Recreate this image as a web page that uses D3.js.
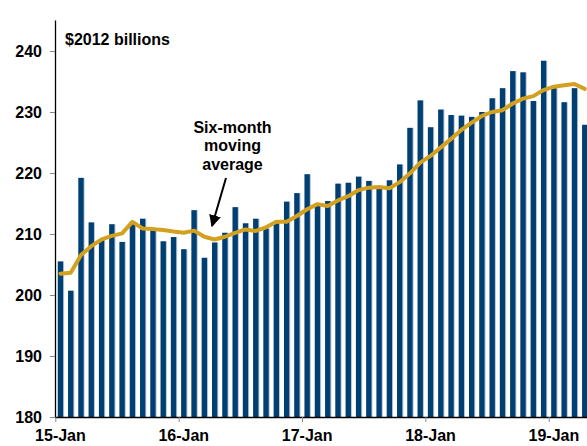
<!DOCTYPE html>
<html><head><meta charset="utf-8">
<script src="https://cdn.jsdelivr.net/npm/d3@7"></script>
<style>
html,body{margin:0;padding:0;background:#fff;}
svg{display:block;font-family:"Liberation Sans",Arial,sans-serif;}
</style></head>
<body>
<svg id="c" width="587" height="446"></svg>
<script>
// Monthly data, Jan 2015 – Apr 2019
const months = d3.range(52).map(i => new Date(2015, i, 1));
const spending = [205.5,200.7,219.2,211.9,209.0,211.6,208.7,212.0,212.5,211.0,208.8,209.5,
  207.5,213.9,206.1,208.6,210.2,214.4,211.75,212.5,210.9,211.75,215.3,216.7,
  219.8,214.9,215.4,218.25,218.4,219.4,218.7,217.8,218.8,221.4,227.4,231.9,
  227.5,230.4,229.5,229.4,229.2,230.0,232.25,233.9,236.7,236.5,231.8,238.4,
  233.9,231.6,233.9,227.9];
const movingAvg = [203.5,203.65,206.55,208.0,209.1,209.7,210.1,212.0,210.9,210.8,210.65,210.4,
  210.2,210.55,209.55,209.1,209.55,210.2,210.75,210.5,211.1,212.0,212.0,212.95,
  214.05,214.9,214.6,215.5,216.2,217.2,217.6,217.7,217.5,218.5,219.95,221.7,
  222.8,224.2,225.6,227.05,228.25,229.35,230.0,230.3,231.4,232.2,232.6,233.6,
  234.15,234.4,234.6,233.8];
const xTickIdx = [0,12,24,36,48];
const xTickLabels = ["15-Jan","16-Jan","17-Jan","18-Jan","19-Jan"];
const yTicks = [180,190,200,210,220,230,240];
const unitLabel = "$2012 billions";
const annotation = ["Six-month","moving","average"];

const svg = d3.select("#c");
const x = d3.scaleLinear().domain([0, 52]).range([55.3, 55.3 + 52*10.28]);
const y = d3.scaleLinear().domain([180, 245]).range([417, 20.5]);
const step = x(1) - x(0);

// bars: light edge + dark body
const g = svg.append("g");
g.selectAll("rect.edge").data(spending).join("rect")
  .attr("class","edge")
  .attr("x",(d,i)=>x(i)+2.5).attr("width",6.3)
  .attr("y",d=>y(d)).attr("height",d=>y(180)-y(d))
  .attr("fill","#b8c6d8");
g.selectAll("rect.bar").data(spending).join("rect")
  .attr("class","bar")
  .attr("x",(d,i)=>x(i)+2.5).attr("width",5.3)
  .attr("y",d=>y(d)).attr("height",d=>y(180)-y(d))
  .attr("fill","#003f72");

// moving average line
const line = d3.line().x((d,i)=>x(i+0.5)).y(d=>y(d)).curve(d3.curveLinear);
svg.append("path").datum(movingAvg).attr("d",line)
  .attr("fill","none").attr("stroke","#d4a020").attr("stroke-width",4)
  .attr("stroke-linejoin","round").attr("stroke-linecap","round");

// y axis
const ya = svg.append("g").attr("transform","translate(55,0)")
  .call(d3.axisLeft(y).tickValues(yTicks).tickSize(5).tickPadding(8).tickFormat(d3.format("d")));
ya.select(".domain").attr("stroke","#000").attr("stroke-width",1.3).attr("d","M0.5,20.5V417.5");
ya.selectAll(".tick line").attr("stroke","#888");
ya.selectAll(".tick text").attr("font-size",16).attr("font-weight","bold").attr("fill","#000")
  .attr("font-family","'Liberation Sans',Arial,sans-serif");

// x axis
const xa = svg.append("g").attr("transform","translate(0,417)")
  .call(d3.axisBottom(x).tickValues(xTickIdx).tickSize(5).tickFormat(""));
xa.select(".domain").attr("stroke","#000").attr("stroke-width",1.3).attr("d","M55,0.5H587");
xa.selectAll(".tick line").attr("stroke","#888");
xa.selectAll("text.lbl").data(xTickIdx).join("text").attr("class","lbl")
  .attr("x",d=>x(d+0.5)).attr("y",24)
  .attr("text-anchor","middle").attr("font-size",16).attr("font-weight","bold").attr("fill","#000")
  .attr("font-family","'Liberation Sans',Arial,sans-serif")
  .text((d,i)=>xTickLabels[i]);

// unit label
svg.append("text").attr("x",65).attr("y",44.5).attr("font-size",16).attr("font-weight","bold")
  .text(unitLabel);

// annotation
svg.append("text").attr("text-anchor","middle").attr("font-size",16).attr("font-weight","bold")
  .selectAll("tspan").data(annotation).join("tspan")
  .attr("x",232.5).attr("y",(d,i)=>132.5+i*18.5).text(d=>d);

// arrow
const defs = svg.append("defs");
defs.append("marker").attr("id","ah").attr("viewBox","0 0 10 10").attr("refX",9).attr("refY",5)
  .attr("markerWidth",6).attr("markerHeight",6).attr("markerUnits","strokeWidth").attr("orient","auto")
  .append("path").attr("d","M0,0L10,5L0,10z").attr("fill","#000");
svg.append("line").attr("x1",226).attr("y1",178).attr("x2",212).attr("y2",226)
  .attr("stroke","#000").attr("stroke-width",2).attr("marker-end","url(#ah)");
</script>
</body></html>
